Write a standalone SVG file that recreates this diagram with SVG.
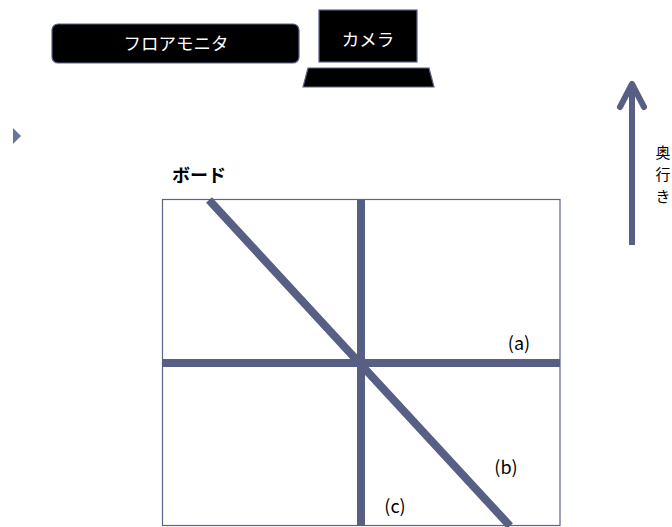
<svg xmlns="http://www.w3.org/2000/svg" width="672" height="527" viewBox="0 0 672 527">
<style>
text{font-family:"Noto Sans CJK JP","Liberation Sans",sans-serif}
.box{fill:#000;stroke:#5b6387;stroke-width:1.2}
.wt{fill:#fff;font-size:17.5px}
.lbl{fill:#000;font-size:18px}
.ln{stroke:#575f84;stroke-width:8;fill:none}
</style>
<rect width="672" height="527" fill="#fff"/>
<g id="floor-monitor">
<rect class="box" x="52" y="24" width="247" height="39" rx="6"/>
<text class="wt" x="176" y="49.5" text-anchor="middle">フロアモニタ</text>
</g>
<g id="camera">
<rect class="box" x="319" y="10" width="98" height="52"/>
<polygon class="box" points="308,68 429,68 434,87 303,87"/>
<text class="wt" x="368" y="46" text-anchor="middle">カメラ</text>
</g>
<g id="marker">
<polygon points="13,128 21,136 13,144" fill="#6b7399"/>
</g>
<g id="board">
<text x="199" y="182" text-anchor="middle" font-size="18" font-weight="bold" fill="#000">ボード</text>
<rect x="162.5" y="199.5" width="397.5" height="326" fill="#fff" stroke="#5b6387" stroke-width="1.2"/>
</g>
<g id="connectors">
<line class="ln" x1="162" y1="363" x2="560" y2="363"/>
<line class="ln" x1="361" y1="200" x2="361" y2="526"/>
<line class="ln" x1="209" y1="200" x2="510" y2="526"/>
<line x1="632" y1="245" x2="632" y2="86" stroke="#575f84" stroke-width="6"/>
<polyline points="620,107 632,84 644,107" fill="none" stroke="#575f84" stroke-width="6" stroke-linecap="round" stroke-linejoin="round"/>
</g>
<g id="labels">
<text class="lbl" x="519" y="350" text-anchor="middle">(a)</text>
<text class="lbl" x="506" y="474" text-anchor="middle">(b)</text>
<text class="lbl" x="395" y="513" text-anchor="middle">(c)</text>
</g>
<g id="depth">
<text x="663" y="158" font-size="15" text-anchor="middle" fill="#000">奥</text>
<text x="663" y="180" font-size="15" text-anchor="middle" fill="#000">行</text>
<text x="663" y="202" font-size="15" text-anchor="middle" fill="#000">き</text>
</g>
</svg>
